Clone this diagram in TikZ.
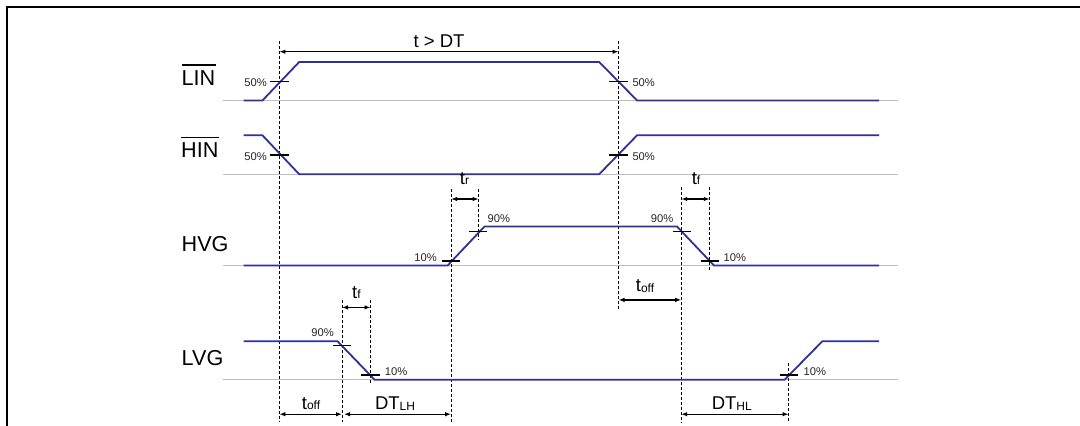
\documentclass[tikz,border=0pt]{standalone}
\usepackage{fontspec}
\setmainfont{Liberation Sans}
\usetikzlibrary{arrows.meta}
\definecolor{wave}{RGB}{46,49,150}
\definecolor{base}{RGB}{190,190,190}
\tikzset{
  waveline/.style={draw=wave,line width=1.8pt,line join=miter},
  baseline/.style={draw=base,line width=1pt},
  tick/.style={draw=black,line width=1.4pt},
  guide/.style={draw=black,line width=0.8pt,dash pattern=on 3pt off 2pt},
  dim/.style={draw=black,line width=1.2pt,{Latex[length=6pt,width=4.5pt]}-{Latex[length=6pt,width=4.5pt]}},
  siglabel/.style={inner sep=0pt,anchor=base west,font=\fontsize{21.6}{24}\selectfont},
  pct/.style={inner sep=0pt,font=\fontsize{11.2}{13}\selectfont,text=black!85},
  tlabel/.style={inner sep=0pt,anchor=base,font=\fontsize{18.5}{21}\selectfont},
  frame/.style={draw=black,line width=2pt}
}
\newcommand{\sm}[1]{{\fontsize{12}{14}\selectfont\raisebox{-0.8pt}{#1}}}
\begin{document}
\begin{tikzpicture}[x=1pt,y=-1pt]
\useasboundingbox (0,0) rectangle (1080,426);
% frame
\draw[frame] (6.5,440) -- (6.5,6.5) -- (1090,6.5);

% signal labels
\node[siglabel] (lin) at (181.5,85) {LIN};
\draw[line width=1.4pt] ([yshift=5pt]lin.north west) -- ([yshift=5pt]lin.north east);
\node[siglabel] (hin) at (181,157.7) {HIN};
\draw[line width=1.4pt] ([yshift=5pt]hin.north west) -- ([yshift=5pt]hin.north east);
\node[siglabel] (hvg) at (181.5,251) {HVG};
\node[siglabel] (lvg) at (181.5,365.3) {LVG};

% gray baselines
\draw[baseline] (223,100.5) -- (898,100.5);
\draw[baseline] (223,174.2) -- (898,174.2);
\draw[baseline] (223,265.4) -- (898,265.4);
\draw[baseline] (223,379.8) -- (898,379.8);

% guide coordinates
\coordinate (d1t) at (279.3,41);   \coordinate (d1b) at (279.3,422);
\coordinate (d2t) at (618.5,41);   \coordinate (d2b) at (618.5,310);
\coordinate (d3t) at (451.1,189);  \coordinate (d3b) at (451.1,422);
\coordinate (d4t) at (478.6,189);  \coordinate (d4b) at (478.6,240);
\coordinate (d5t) at (681.2,187);  \coordinate (d5b) at (681.2,423);
\coordinate (d6t) at (709.8,187);  \coordinate (d6b) at (709.8,270);
\coordinate (d7t) at (342,300);    \coordinate (d7b) at (342,422);
\coordinate (d8t) at (370.5,300);  \coordinate (d8b) at (370.5,384);
\coordinate (d9t) at (788.6,363);  \coordinate (d9b) at (788.6,423);
\foreach \i in {1,...,9} \draw[guide] (d\i t) -- (d\i b);

% waveforms
\draw[waveline] (243.5,100.5) -- (262.4,100.5) -- (299.2,62) -- (599.2,62) -- (637.1,100.5) -- (879.2,100.5);
\draw[waveline] (243.5,135.3) -- (262.4,135.3) -- (299.2,174.2) -- (599.2,174.2) -- (637.1,135.3) -- (879.2,135.3);
\draw[waveline] (243.5,265.4) -- (447.7,265.4) -- (484.5,226.5) -- (677,226.5) -- (713.9,265.4) -- (879.2,265.4);
\draw[waveline] (243.5,341.2) -- (337.5,341.2) -- (374.7,379.8) -- (784.5,379.8) -- (822.4,341.2) -- (879.2,341.2);

% ticks
\draw[tick] (270,81.3) -- (288.6,81.3);
\draw[tick] (608.9,81.3) -- (627.8,81.3);
\draw[tick] (270,155) -- (288.6,155);
\draw[tick] (608.9,155) -- (627.8,155);
\draw[tick] (441.8,261) -- (459.7,261);
\draw[tick] (469.4,231.7) -- (487.3,231.7);
\draw[tick] (672.6,231.7) -- (690.5,231.7);
\draw[tick] (700.5,261) -- (719,261);
\draw[tick] (333.3,345.7) -- (351.2,345.7);
\draw[tick] (360.9,375) -- (379.5,375);
\draw[tick] (780,375) -- (798.3,375);

% percentage labels
\node[pct,anchor=base east] (p1) at (267,86) {50\%};
\node[pct,anchor=base west] (p2) at (632.3,86) {50\%};
\node[pct,anchor=base east] (p3) at (267,160) {50\%};
\node[pct,anchor=base west] (p4) at (632.3,160) {50\%};
\node[pct,anchor=base east] (p5) at (437,261) {10\%};
\node[pct,anchor=base west] (p6) at (487.5,222) {90\%};
\node[pct,anchor=base east] (p7) at (673.5,222) {90\%};
\node[pct,anchor=base west] (p8) at (723.5,261) {10\%};
\node[pct,anchor=base east] (p9) at (334,336) {90\%};
\node[pct,anchor=base west] (p10) at (384.6,375) {10\%};
\node[pct,anchor=base west] (p11) at (803.4,375) {10\%};

% dimension arrows
\draw[dim] (d1t |- 0,51.7) -- (d2t |- 0,51.7);
\draw[dim] (d3t |- 0,199) -- (d4t |- 0,199);
\draw[dim] (d5t |- 0,199) -- (d6t |- 0,199);
\draw[dim] (d2t |- 0,299.9) -- (d5t |- 0,299.9);
\draw[dim] (d7t |- 0,307.4) -- (d8t |- 0,307.4);
\draw[dim] (d1t |- 0,414.2) -- (d7t |- 0,414.2);
\draw[dim] ([xshift=2pt]d7t |- 0,414.2) -- (d3t |- 0,414.2);
\draw[dim] (d5t |- 0,414.2) -- (d9t |- 0,414.2);

% timing labels
\node[tlabel] (tdt) at (439,47) {t > DT};
\node[tlabel] (tr) at (464.5,184) {t\sm{r}};
\node[tlabel] (tf1) at (696,184) {t\sm{f}};
\node[tlabel] (toff1) at (645,291.7) {t\sm{off}};
\node[tlabel] (tf2) at (356.4,298) {t\sm{f}};
\node[tlabel] (toff2) at (311,409) {t\sm{off}};
\node[tlabel] (dtlh) at (395,409.4) {DT\sm{LH}};
\node[tlabel] (dthl) at (731.8,409.4) {DT\sm{HL}};
\end{tikzpicture}
\end{document}
